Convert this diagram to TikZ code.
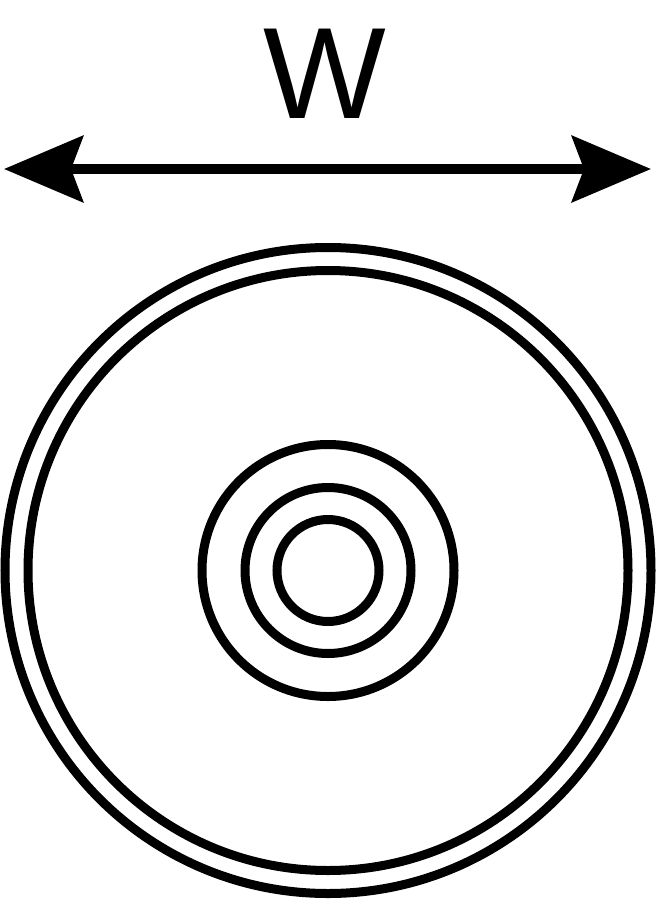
\documentclass[tikz,border=0pt]{standalone}
\usepackage{fontspec}
\setmainfont{Liberation Sans}
\usetikzlibrary{arrows.meta,positioning}

\begin{document}
\begin{tikzpicture}[x=1pt, y=-1pt,
    ring/.style={draw, line width=9pt},
    wtip/.tip={Stealth[length=79pt, width=66pt, inset=12pt]}]
    \useasboundingbox (0,0) rectangle (657,900);
    \coordinate (c) at (328,570.5);

    % rim and hub
    \draw[ring] (c) circle[radius=323pt];
    \draw[ring] (c) circle[radius=300pt];
    \draw[ring] (c) circle[radius=126pt];
    \draw[ring] (c) circle[radius=83pt];
    \draw[ring] (c) circle[radius=51pt];

    % width arrow
    \coordinate (wleft) at (4,169);
    \coordinate (wright) at (651,169);
    \draw[line width=10pt, wtip-wtip] (wleft) -- (wright);
    \node (wlabel) [anchor=base, inner sep=0pt, font=\fontsize{130}{130}\selectfont] at (325,118) {W};
\end{tikzpicture}
\end{document}
